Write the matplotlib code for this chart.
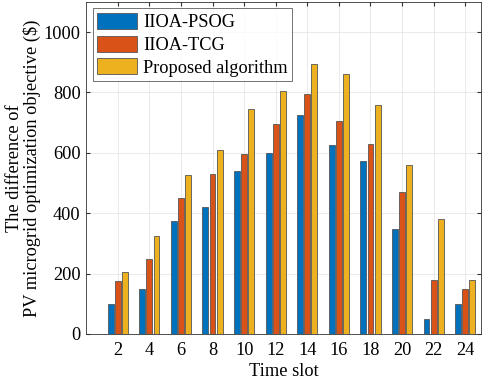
import numpy as np
import matplotlib.pyplot as plt

plt.rcParams['font.family'] = ['Liberation Serif', 'DejaVu Serif']
plt.rcParams['font.size'] = 13.2

slots = [2, 4, 6, 8, 10, 12, 14, 16, 18, 20, 22, 24]
psog = [100, 149, 375, 419, 540, 600, 725, 625, 574, 349, 49, 100]
tcg = [175, 249, 450, 530, 595, 695, 794, 705, 629, 469, 180, 149]
proposed = [204, 325, 525, 609, 745, 806, 895, 860, 759, 560, 380, 180]
labels = ['IIOA-PSOG', 'IIOA-TCG', 'Proposed algorithm']
colors = ['#0072BD', '#D95319', '#EDB120']

fig = plt.figure(figsize=(4.98, 3.82), dpi=100)
ax = fig.add_axes([0.173, 0.126, 0.793, 0.869])

x = np.array(slots)
w = 0.37
for i, (vals, lab, c) in enumerate(zip([psog, tcg, proposed], labels, colors)):
    ax.bar(x + (i - 1) * 0.45, vals, width=w, color=c, edgecolor='#555555',
           linewidth=0.6, label=lab, zorder=3)

ax.set_xlim(0, 25)
ax.set_ylim(0, 1100)
ax.set_xticks(slots)
ax.set_yticks(range(0, 1001, 200))
ax.grid(True, color='#e6e6e6', linewidth=0.6, zorder=0)
ax.tick_params(direction='in', length=3, color='#333333', top=True, right=True)
ax.tick_params(axis='x', pad=6)
ax.tick_params(axis='y', pad=4)
for s in ax.spines.values():
    s.set_color('#333333')
    s.set_linewidth(0.6)
ax.set_xlabel('Time slot', labelpad=3)
ax.set_ylabel('The difference of\nPV microgrid optimization objective (\\$)',
              labelpad=2, linespacing=1.0)
leg = ax.legend(loc='upper left', fancybox=False, edgecolor='#333333',
                borderaxespad=0.35, handlelength=2.2, handleheight=0.95,
                handletextpad=0.3, labelspacing=0.25, borderpad=0.25)
leg.get_frame().set_linewidth(0.6)

fig.savefig('out.png', dpi=100)
